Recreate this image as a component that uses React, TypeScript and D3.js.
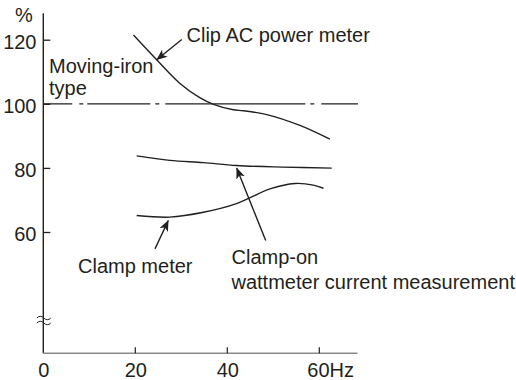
import React from "react";
import * as d3 from "d3";

// Frequency (Hz) and reading (%) for each curve
const clipFreq = [19.6, 24.7, 29.7, 34.1, 37.0, 41.3, 43.5, 48.6, 55.8, 62.3];
const clipPct = [121.6, 113.8, 106.5, 102.0, 100.0, 98.3, 98.0, 96.8, 93.4, 89.1];

const clampOnFreq = [20.3, 27.5, 34.8, 42.0, 52.0, 62.7];
const clampOnPct = [83.9, 82.5, 81.8, 80.9, 80.4, 80.1];

const clampFreq = [20.3, 27.5, 34.8, 42.0, 49.3, 54.7, 58.7, 60.9];
const clampPct = [65.3, 64.8, 66.3, 69.0, 73.6, 75.3, 74.8, 73.8];

const movingIronLevel = 100;

const yTicks = [120, 100, 80, 60];
const xTicks = [20, 40, 60];
const xTickLabels = ["0", "20", "40", "60Hz"];
const xLabelValues = [0, 20, 40, 60];

// Arrows: [tailFreq, tailPct, tipFreq, tipPct]
const arrowClip = [30.1, 120.2, 24.65, 113.9];
const arrowClampOn = [48.35, 57.5, 42.04, 80.1];
const arrowClamp = [24.28, 54.9, 27.17, 63.75];

const FONT = "'Liberation Sans', Arial, Helvetica, sans-serif";
const INK = "#231f20";

export default function App() {
  const x = d3.scaleLinear().domain([0, 60]).range([43.3, 319.3]);
  const y = d3.scaleLinear().domain([60, 120]).range([232.5, 40.2]);

  const line = d3
    .line<[number, number]>()
    .x((d) => x(d[0]))
    .y((d) => y(d[1]))
    .curve(d3.curveCatmullRom.alpha(0.5));

  const toPts = (f: number[], p: number[]) =>
    f.map((v, i) => [v, p[i]] as [number, number]);

  const axisX = x(0);
  const axisBottom = 353.3;
  const axisTop = 13.3;
  const axisRight = 357.5;

  const arrow = (a: number[], key: string) => (
    <line
      key={key}
      x1={x(a[0])}
      y1={y(a[1])}
      x2={x(a[2])}
      y2={y(a[3])}
      stroke={INK}
      strokeWidth={1.4}
      markerEnd="url(#ah)"
    />
  );

  const fs = 20;

  return (
    <svg
      width={516}
      height={380}
      style={{ position: "absolute", left: 0, top: 0, background: "#fff" }}
      fontFamily={FONT}
    >
      <defs>
        <marker
          id="ah"
          markerUnits="userSpaceOnUse"
          markerWidth={12}
          markerHeight={10}
          refX={10.5}
          refY={4.5}
          orient="auto"
        >
          <path d="M0,0 L11,4.5 L0,9 L2.8,4.5 Z" fill={INK} />
        </marker>
      </defs>

      {/* axes */}
      <line x1={axisX} y1={axisTop} x2={axisX} y2={axisBottom} stroke={INK} strokeWidth={1.4} />
      <line x1={axisX} y1={axisBottom} x2={axisRight} y2={axisBottom} stroke="#8a8a8a" strokeWidth={1.6} />

      {/* axis break */}
      <path
        d={`M${axisX - 6.5},${318} q3.5,-3.5 7,0 t7,0 M${axisX - 6.5},${323} q3.5,-3.5 7,0 t7,0`}
        fill="none"
        stroke={INK}
        strokeWidth={1}
      />

      {/* y ticks */}
      {yTicks.map((t) => (
        <g key={"yt" + t}>
          <line x1={axisX} x2={axisX + 7} y1={y(t)} y2={y(t)} stroke={INK} strokeWidth={1.3} />
          <text x={36.5} y={y(t) + 8.7} textAnchor="end" fontSize={fs} fill={INK}>
            {t}
          </text>
        </g>
      ))}
      <text x={24} y={22} textAnchor="middle" fontSize={fs} fill={INK}>
        %
      </text>

      {/* x ticks */}
      {xTicks.map((t) => (
        <line key={"xt" + t} x1={x(t)} x2={x(t)} y1={axisBottom} y2={axisBottom - 6} stroke={INK} strokeWidth={1.2} />
      ))}
      {xLabelValues.map((v, i) => {
        const lbl = xTickLabels[i];
        const isLast = i === xLabelValues.length - 1;
        return (
          <text
            key={"xl" + v}
            x={isLast ? x(v) - 12 : x(v) + 0.5}
            y={377}
            textAnchor={isLast ? "start" : "middle"}
            fontSize={fs}
            fill={INK}
          >
            {lbl}
          </text>
        );
      })}

      {/* moving-iron reference line */}
      <line
        x1={axisX}
        x2={358}
        y1={y(movingIronLevel) - 0.5}
        y2={y(movingIronLevel) - 0.5}
        stroke={INK}
        strokeWidth={1.2}
        strokeDasharray="29 7 4 4 63 5 4 6 140 5 4 7 37"
      />

      {/* curves */}
      <path d={line(toPts(clipFreq, clipPct)) || ""} fill="none" stroke={INK} strokeWidth={1.4} />
      <path d={line(toPts(clampOnFreq, clampOnPct)) || ""} fill="none" stroke={INK} strokeWidth={1.4} />
      <path d={line(toPts(clampFreq, clampPct)) || ""} fill="none" stroke={INK} strokeWidth={1.4} />

      {/* arrows */}
      {arrow(arrowClip, "a1")}
      {arrow(arrowClampOn, "a2")}
      {arrow(arrowClamp, "a3")}

      {/* labels */}
      <text x={186.5} y={41.5} fontSize={fs} fill={INK}>
        Clip AC power meter
      </text>
      <text x={49} y={72.5} fontSize={fs} fill={INK}>
        Moving-iron
      </text>
      <text x={49} y={95} fontSize={fs} fill={INK}>
        type
      </text>
      <text x={78} y={272.5} fontSize={fs} fill={INK}>
        Clamp meter
      </text>
      <text x={231.5} y={264} fontSize={fs} fill={INK}>
        Clamp-on
      </text>
      <text x={231.5} y={288.5} fontSize={fs} fill={INK}>
        wattmeter current measurement
      </text>
    </svg>
  );
}
